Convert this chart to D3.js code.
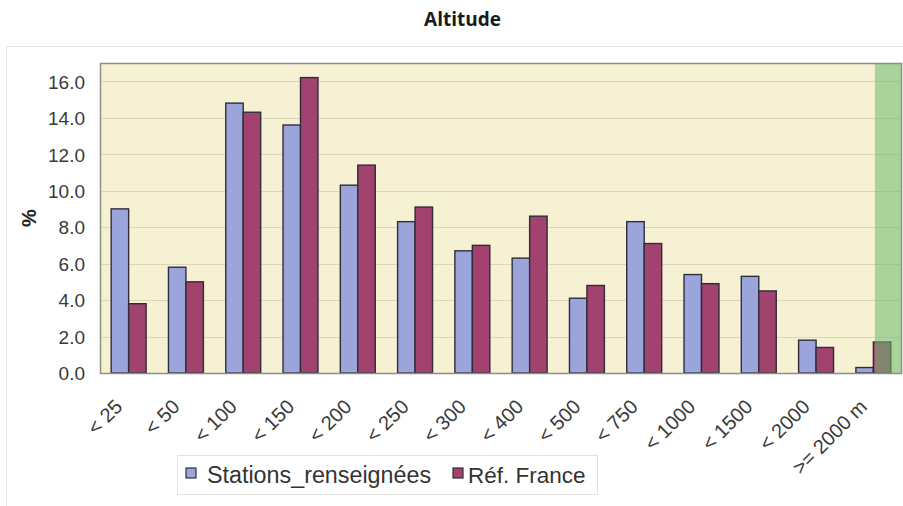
<!DOCTYPE html>
<html>
<head>
<meta charset="utf-8">
<script src="https://cdn.jsdelivr.net/npm/d3@7/dist/d3.min.js"></script>
<style>
  html, body { margin: 0; padding: 0; background: #ffffff; }
  svg { display: block; }
</style>
</head>
<body>
<svg id="chart" width="903" height="506"></svg>
<script>
const categories = ["< 25", "< 50", "< 100", "< 150", "< 200", "< 250", "< 300", "< 400", "< 500", "< 750", "< 1000", "< 1500", "< 2000", ">= 2000 m"];
const stationsValues = [9.0, 5.8, 14.8, 13.6, 10.3, 8.3, 6.7, 6.3, 4.1, 8.3, 5.4, 5.3, 1.8, 0.3];
const franceValues = [3.8, 5.0, 14.3, 16.2, 11.4, 9.1, 7.0, 8.6, 4.8, 7.1, 4.9, 4.5, 1.4, 1.7];
const seriesNames = ["Stations_renseignées", "Réf. France"];
const yTicks = [0, 2, 4, 6, 8, 10, 12, 14, 16];
const title = "Altitude";
const yTitle = "%";

const svg = d3.select("#chart");
const W = 903, H = 506;
const plot = { left: 100, right: 902, top: 63, bottom: 373 };
const colors = ["#9ca4dc", "#a1436e"];

// outer frame
svg.append("rect").attr("x", 6.5).attr("y", 46.5).attr("width", W + 10).attr("height", H)
  .attr("fill", "#ffffff").attr("stroke", "#e6e6e6").attr("stroke-width", 1);

// title
svg.append("text").attr("x", 462.5).attr("y", 26).attr("text-anchor", "middle")
  .attr("font-family", "'Open Sans', 'DejaVu Sans', sans-serif").attr("font-weight", 700)
  .attr("font-size", 19).attr("fill", "#1a1a1a").text(title);

const x = d3.scaleBand().domain(categories).range([plot.left, plot.right])
  .paddingInner(0.39).paddingOuter(0.195);
const xs = d3.scaleBand().domain(seriesNames).range([0, x.bandwidth()]);
const y = d3.scaleLinear().domain([0, 17]).range([plot.bottom, plot.top]);

// plot background
svg.append("rect").attr("x", plot.left).attr("y", plot.top)
  .attr("width", plot.right - plot.left).attr("height", plot.bottom - plot.top)
  .attr("fill", "#f6f1d3");

// gridlines
svg.append("g").selectAll("line").data(yTicks.filter(d => d > 0)).join("line")
  .attr("x1", plot.left).attr("x2", plot.right)
  .attr("y1", d => Math.round(y(d)) + 0.5).attr("y2", d => Math.round(y(d)) + 0.5)
  .attr("stroke", "#dcd7b6").attr("stroke-width", 1.2);

// bars
const data = categories.map((c, i) => ({ c, vals: [stationsValues[i], franceValues[i]] }));
const groups = svg.append("g").selectAll("g").data(data).join("g")
  .attr("transform", d => `translate(${x(d.c)},0)`);
groups.selectAll("rect").data(d => d.vals.map((v, k) => ({ v, k }))).join("rect")
  .attr("x", d => xs(seriesNames[d.k]))
  .attr("y", d => y(d.v))
  .attr("width", xs.bandwidth())
  .attr("height", d => y(0) - y(d.v))
  .attr("fill", d => colors[d.k])
  .attr("stroke", "#2e2e3a").attr("stroke-width", 1.4);

// green band over last category
const lastC = categories[categories.length - 1];
const greenX = x(lastC) + x.bandwidth() / 2 + 1.5;
svg.append("rect").attr("x", greenX).attr("y", plot.top)
  .attr("width", plot.right - greenX).attr("height", plot.bottom - plot.top)
  .attr("fill", "rgb(105,185,110)").attr("opacity", 0.55);

// plot border
svg.append("rect").attr("x", plot.left + 0.5).attr("y", plot.top + 0.5)
  .attr("width", plot.right - plot.left - 1).attr("height", plot.bottom - plot.top)
  .attr("fill", "none").attr("stroke", "#8f8f86").attr("stroke-width", 1.5);

// y axis
const yAxis = d3.axisLeft(y).tickValues(yTicks).tickFormat(d3.format(".1f")).tickSize(0).tickPadding(15);
const yg = svg.append("g").attr("transform", `translate(${plot.left},0)`).call(yAxis);
yg.select(".domain").remove();
yg.selectAll("text").attr("font-family", "'Liberation Sans', Arial, sans-serif")
  .attr("font-size", 19).attr("fill", "#3a3a3a").attr("dy", "0.36em");

// y title
svg.append("text").attr("transform", "translate(36,218) rotate(-90)")
  .attr("text-anchor", "middle").attr("font-family", "'Liberation Sans', Arial, sans-serif")
  .attr("font-weight", 700).attr("font-size", 20).attr("fill", "#222").text(yTitle);

// x axis labels
const xAxis = d3.axisBottom(x).tickSize(0).tickPadding(0);
const xg = svg.append("g").attr("transform", `translate(0,${plot.bottom})`).call(xAxis);
xg.select(".domain").remove();
xg.selectAll("text")
  .attr("font-family", "'Liberation Sans', Arial, sans-serif").attr("font-size", 20)
  .attr("fill", "#3a3a3a").attr("text-anchor", "end")
  .attr("dy", 0).attr("y", 0)
  .attr("transform", "translate(-5,35) rotate(-45)");

// legend
const lg = svg.append("g");
lg.append("rect").attr("x", 177.5).attr("y", 455.5).attr("width", 420).attr("height", 39)
  .attr("fill", "#ffffff").attr("stroke", "#e2e2e2");
const legendItems = [
  { name: seriesNames[0], sx: 186, tx: 207, fs: 23.3 },
  { name: seriesNames[1], sx: 453, tx: 468, fs: 22.5 }
];
legendItems.forEach((it, k) => {
  lg.append("rect").attr("x", it.sx).attr("y", 468).attr("width", 10).attr("height", 10)
    .attr("fill", colors[k]).attr("stroke", "#2e2e3a").attr("stroke-width", 1.2);
  lg.append("text").attr("x", it.tx).attr("y", 483)
    .attr("font-family", "'Liberation Sans', Arial, sans-serif").attr("font-size", it.fs)
    .attr("fill", "#333").text(it.name);
});
</script>
</body>
</html>
